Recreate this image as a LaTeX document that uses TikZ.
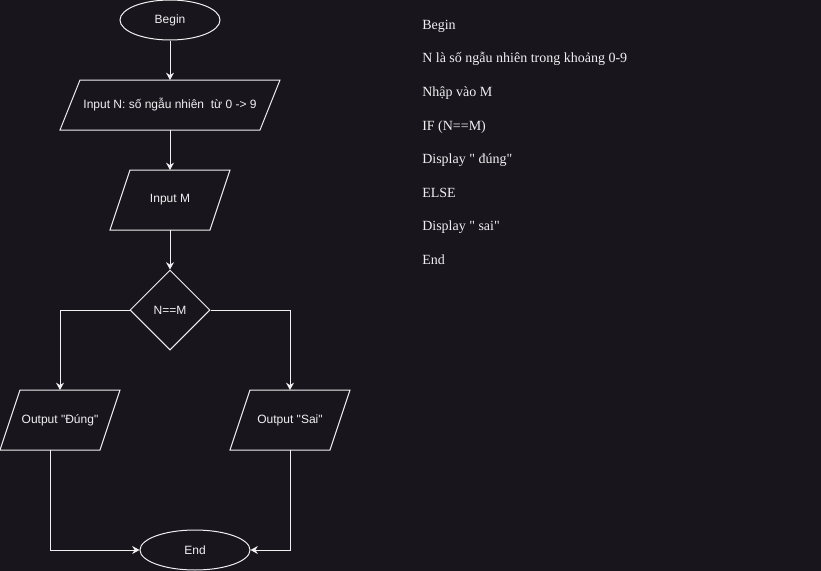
\documentclass[tikz,border=0pt]{standalone}
\usepackage{fontspec}
\newfontfamily\codefont{Liberation Serif}
\newfontfamily\flowfont{Liberation Sans}
\usetikzlibrary{arrows.meta,shapes.geometric}
\definecolor{canvas}{RGB}{24,21,29}
\definecolor{ink}{RGB}{240,240,240}
\tikzset{
    >={Stealth[length=5.5pt,width=6pt,inset=1.8pt]},
    flow/.style={
        draw=ink,
        line width=0.75pt,
    },
    terminal/.style={
        draw=ink,
        line width=0.75pt,
        ellipse,
        inner sep=0pt,
        minimum height=30pt,
        text=ink,
        font=\flowfont\fontsize{9}{11}\selectfont,
    },
    io/.style={
        rectangle,
        inner sep=0pt,
        outer sep=0pt,
        text=ink,
        font=\flowfont\fontsize{9}{11}\selectfont,
    },
    decision/.style={
        draw=ink,
        line width=0.75pt,
        diamond,
        aspect=1,
        inner sep=0pt,
        minimum width=60pt,
        minimum height=60pt,
        text=ink,
        font=\flowfont\fontsize{9}{11}\selectfont,
    },
    pseudo/.style={
        anchor=base west,
        inner sep=0pt,
        text=ink,
        font=\codefont\fontsize{10.5}{12}\selectfont,
    },
}
\begin{document}
\begin{tikzpicture}[x=0.75pt,y=-0.75pt]
    \fill[canvas] (0,0) rectangle (821,571);
    \useasboundingbox (0,0) rectangle (821,571);

    % flowchart
    \node[terminal, minimum width=75pt] (begin) at (170,20) {Begin};
    \node[io, minimum width=150pt, minimum height=37.5pt] (inN) at (170,105)
        {Input N: số ngẫu nhiên\ \ từ 0 -> 9};
    \node[io, minimum width=75pt, minimum height=45pt] (inM) at (170,200) {Input M};
    \node[decision] (cmp) at (170,310) {N==M};
    \node[io, minimum width=75pt, minimum height=45pt] (outY) at (60,420) {Output "Đúng"};
    \node[io, minimum width=75pt, minimum height=45pt] (outN) at (290,420) {Output "Sai"};
    \node[terminal, minimum width=82.5pt] (end) at (195,550) {End};

    % parallelogram outlines round the io boxes
    \foreach \n in {inN, inM, outY, outN}
        \draw[flow, line join=miter] ([xshift=-7.5pt]\n.south west) -- ([xshift=7.5pt]\n.north west)
            -- ([xshift=7.5pt]\n.north east) -- ([xshift=-7.5pt]\n.south east) -- cycle;

    \draw[flow,->] (begin) -- (inN);
    \draw[flow,->] (inN) -- (inM);
    \draw[flow,->] (inM) -- (cmp);
    \draw[flow,->] (cmp.west) -| (outY.north);
    \draw[flow,->] (cmp.east) -| (outN.north);
    \draw[flow,->] ([xshift=-7.5pt]outY.south) |- (end.west);
    \draw[flow,->] (outN.south) |- (end.east);

    % pseudocode
    \foreach \txt [count=\i] in {Begin, N là số ngẫu nhiên trong khoảng 0-9, Nhập vào M,
        IF (N==M), Display " đúng", ELSE, Display " sai", End}
        \node[pseudo] (line\i) at (422,{29.3+33.6*(\i-1)}) {\txt};
\end{tikzpicture}
\end{document}
